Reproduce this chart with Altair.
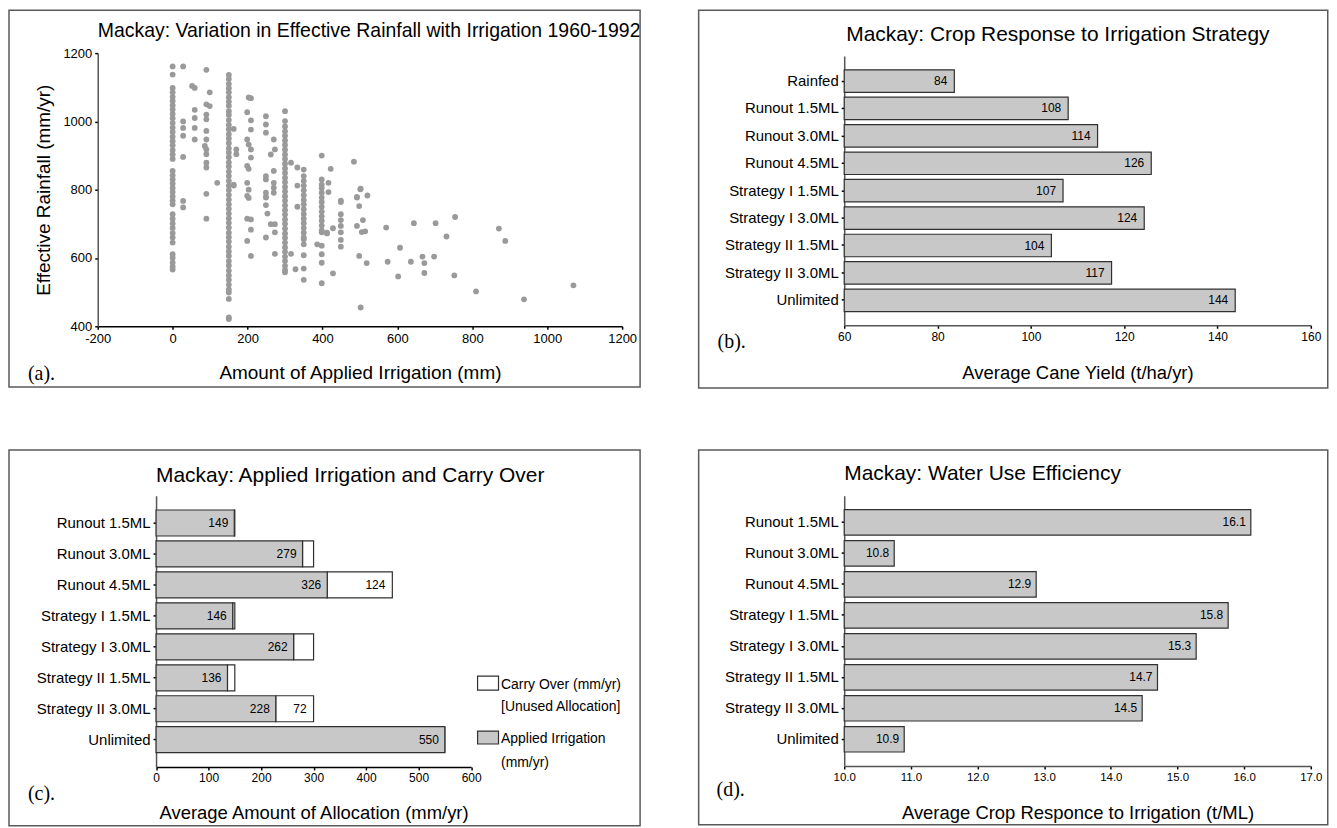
import altair as alt
import pandas as pd

FONT = "Liberation Sans"
SERIF = "Liberation Serif"
BAR_FILL = "#c8c8c8"
BAR_EDGE = "#303030"
FRAME = "#5a5a5a"
DOT = "#9a9a9a"

# ---------------- (a) scatter data: (applied irrigation mm, [effective rainfall mm/yr ...])
scatter_columns = [
    (0, [1161, 1137, 1098, 1085, 1072, 1060, 1047, 1035, 1022, 1009, 995, 982, 969, 955, 942, 930,
         916, 903, 890, 855, 842, 830, 818, 805, 793, 780, 768, 757, 728, 715, 701, 688, 673, 660,
         645, 611, 601, 587, 575, 566]),
    (28, [1161, 1000, 981, 958, 896, 767, 748]),
    (52, [1104]),
    (59, [1098, 1034, 1010, 981, 947]),
    (86, [928]),
    (90, [1151, 1050, 1020, 1006, 972, 947, 918, 904, 879, 865, 788, 715]),
    (99, [1085, 1045]),
    (119, [820]),
    (150, [1136, 1124, 1110, 1097, 1085, 1071, 1058, 1046, 1030, 1019, 1004, 990, 977, 963, 950,
           936, 921, 909, 895, 880, 868, 853, 840, 826, 812, 799, 785, 771, 757, 744, 730, 716,
           703, 689, 674, 661, 648, 633, 619, 606, 591, 578, 563, 549, 536, 522, 508, 499, 480,
           426, 421]),
    (163, [978, 815, 812]),
    (170, [918, 904]),
    (199, [1027, 947, 870, 820, 782, 715, 650]),
    (203, [1070, 932, 861, 800, 776]),
    (209, [1068, 1003, 976, 918, 894, 713, 683, 606]),
    (249, [1015, 991, 967, 840, 830, 791, 779, 777, 755, 660]),
    (253, [730]),
    (262, [903, 699]),
    (270, [947, 855, 820, 806, 791]),
    (273, [918, 699, 675, 612]),
    (300, [1030, 1001, 985, 971, 958, 944, 931, 917, 903, 890, 876, 862, 849, 835, 822, 808, 795,
           781, 768, 754, 740, 727, 713, 700, 686, 672, 659, 645, 631, 618, 604, 591, 577, 565,
           558]),
    (316, [879, 612]),
    (328, [567]),
    (333, [865, 812, 750]),
    (350, [859, 840, 826, 812, 798, 784, 770, 757, 743, 729, 715, 702, 688, 674, 660, 655, 640,
           608, 569, 536]),
    (386, [640]),
    (398, [900, 830, 815, 805, 791, 777, 764, 750, 736, 722, 709, 695, 681, 675, 636, 611, 586,
           526]),
    (412, [674, 672]),
    (416, [820, 793]),
    (422, [861]),
    (428, [687, 555]),
    (449, [768, 764, 728, 711, 694, 675, 653, 633]),
    (484, [882]), (492, [779, 777, 694]), (498, [752, 606]), (501, [801]), (502, [803, 455]),
    (505, [676]), (508, [711]), (514, [678]), (518, [585]), (520, [783]),
    (570, [689]), (574, [589]), (602, [546]), (607, [630]), (636, [589]), (644, [702]),
    (667, [604]), (672, [585, 556]), (698, [604]), (702, [702]), (731, [663]), (752, [549]),
    (754, [720]), (810, [502]), (871, [686]), (888, [650]), (938, [479]), (1070, [520]),
]
a_xticks = [-200, 0, 200, 400, 600, 800, 1000, 1200]
a_yticks = [400, 600, 800, 1000, 1200]

# ---------------- (b) crop response
b_strategies = ["Rainfed", "Runout 1.5ML", "Runout 3.0ML", "Runout 4.5ML", "Strategy I 1.5ML",
                "Strategy I 3.0ML", "Strategy II 1.5ML", "Strategy II 3.0ML", "Unlimited"]
b_yield = [83.6, 108.0, 114.3, 125.8, 106.9, 124.3, 104.4, 117.3, 143.8]
b_xticks = [60, 80, 100, 120, 140, 160]

# ---------------- (c) applied irrigation and carry over
c_strategies = ["Runout 1.5ML", "Runout 3.0ML", "Runout 4.5ML", "Strategy I 1.5ML",
                "Strategy I 3.0ML", "Strategy II 1.5ML", "Strategy II 3.0ML", "Unlimited"]
c_applied = [149, 279, 326, 146, 262, 136, 228, 550]
c_allocation = [150, 300, 450, 150, 300, 150, 300, 550]
c_xticks = [0, 100, 200, 300, 400, 500, 600]
c_legend = [["Carry Over (mm/yr)", "[Unused Allocation]"], ["Applied Irrigation", "(mm/yr)"]]

# ---------------- (d) water use efficiency
d_strategies = c_strategies
d_wue = [16.1, 10.75, 12.88, 15.76, 15.28, 14.7, 14.47, 10.9]
d_xticks = [10, 11, 12, 13, 14, 15, 16, 17]

one = pd.DataFrame({"k": [0]})


def frame(x1, x2, y1, y2):
    return alt.Chart(one).mark_rect(fillOpacity=0, stroke=FRAME, strokeWidth=1.5).encode(
        x=alt.value(x1), x2=alt.value(x2), y=alt.value(y1), y2=alt.value(y2))


def label(text, x, y, size, font=FONT, align="left"):
    return alt.Chart(one).mark_text(text=text, font=font, fontSize=size, align=align,
                                    baseline="middle", color="black").encode(
        x=alt.value(x), y=alt.value(y))


def xaxis(values, title, tx, ty, fmt=None, label_size=12, tsize=18.5, dcolor="#555555",
          expr=None):
    kw = dict(values=values, title=title, titleX=tx, titleY=ty, titleBaseline="middle",
              titleAlign="center", titleFontSize=tsize, titleFontWeight="normal",
              titleFont=FONT, titleColor="black", labelFont=FONT, labelFontSize=label_size,
              labelColor="black", labelPadding=3, tickSize=3, tickWidth=1.5, tickColor="black",
              domainColor=dcolor, domainWidth=1.5, grid=False, labelFlush=False)
    if fmt:
        kw["format"] = fmt
    if expr:
        kw["labelExpr"] = expr
    return alt.Axis(**kw)


def yaxis_cat(offset=0):
    return alt.Axis(title=None, labelFont=FONT, labelFontSize=15, labelColor="black",
                    labelPadding=3, tickSize=3, tickWidth=1.5, tickColor="black",
                    domainColor="#555555", domainWidth=1.5, grid=False, labelLimit=300,
                    offset=offset)


# ---------------- panel (a)
rows = []
for xv, ys in scatter_columns:
    for yv in ys:
        rows.append({"irr": xv, "rain": yv})
df_a = pd.DataFrame(rows)

AW, AH = 526, 274
scat = alt.Chart(df_a).mark_circle(size=34, color=DOT, opacity=1).encode(
    x=alt.X("irr:Q", scale=alt.Scale(domain=[-200, 1200], nice=False, zero=False),
            axis=xaxis(a_xticks, "Amount of Applied Irrigation (mm)", AW / 2, 46,
                       label_size=13, tsize=19, dcolor="black", expr="'' + datum.value")),
    y=alt.Y("rain:Q", scale=alt.Scale(domain=[400, 1200], nice=False, zero=False),
            axis=alt.Axis(values=a_yticks, title="Effective Rainfall (mm/yr)", titleX=-54,
                          titleY=AH / 2, titleAngle=270, titleBaseline="middle",
                          titleAlign="center", titleFontSize=19, titleFontWeight="normal",
                          titleFont=FONT, titleColor="black", labelFont=FONT, labelFontSize=13,
                          labelColor="black", labelPadding=3, tickSize=3, tickWidth=1.5,
                          tickColor="black", domainColor="#555555", domainWidth=1.5,
                          grid=False, labelExpr="'' + datum.value")),
)
panel_a = alt.layer(
    scat,
    label("Mackay: Variation in Effective Rainfall with Irrigation 1960-1992", 0, -22, 19.5),
    label("(a).", -70, 322, 20, font=SERIF),
    frame(-89, 544, -43, 335),
).properties(width=AW, height=AH)

# ---------------- panel (b)  (plot box starts 3px above its y axis, to line up with (a))
BW, BH = 468, 273
df_b = pd.DataFrame({"strategy": b_strategies, "yield": b_yield})
by = alt.Y("strategy:N", sort=b_strategies,
           scale=alt.Scale(range=[3, BH], paddingInner=0.18, paddingOuter=0.5),
           axis=yaxis_cat())
bars_b = alt.Chart(df_b).mark_bar(fill=BAR_FILL, stroke=BAR_EDGE, strokeWidth=1.2).encode(
    x=alt.X("yield:Q", scale=alt.Scale(domain=[60, 160], nice=False, zero=False),
            axis=xaxis(b_xticks, "Average Cane Yield (t/ha/yr)", BW / 2, 47)),
    x2=alt.datum(60),
    y=by,
)
text_b = alt.Chart(df_b).mark_text(align="right", baseline="middle", dx=-7, font=FONT,
                                   fontSize=12, color="black").encode(
    x="yield:Q", y=alt.Y("strategy:N", sort=b_strategies), text=alt.Text("yield:Q", format=".0f"))
panel_b = alt.layer(
    bars_b, text_b,
    label("Mackay: Crop Response to Irrigation Strategy", 2, -18, 21),
    label("(b).", -127, 290, 20, font=SERIF),
    frame(-146, 485, -43, 336),
).properties(width=BW, height=BH)

# ---------------- panel (c)  (plot box starts 58.5px left of its y axis, to line up with (a))
SH = 58.5
CW, CH = 316 + SH, 272
df_c = pd.DataFrame({"strategy": c_strategies, "applied": c_applied, "alloc": c_allocation})
cy = alt.Y("strategy:N", sort=c_strategies,
           scale=alt.Scale(paddingInner=0.16, paddingOuter=0.46), axis=yaxis_cat(-SH))
carry_c = alt.Chart(df_c).mark_bar(fill="white", stroke=BAR_EDGE, strokeWidth=1.2).encode(
    x=alt.X("alloc:Q", scale=alt.Scale(domain=[0, 600], nice=False, range=[SH, CW]),
            axis=xaxis(c_xticks, "Average Amount of Allocation (mm/yr)", SH + 158, 46,
                       dcolor="black")),
    x2=alt.X2("applied:Q"),
    y=cy,
)
applied_c = alt.Chart(df_c).mark_bar(fill=BAR_FILL, stroke=BAR_EDGE, strokeWidth=1.2).encode(
    x="applied:Q", x2=alt.datum(0), y=alt.Y("strategy:N", sort=c_strategies))
text_c = alt.Chart(df_c).mark_text(align="right", baseline="middle", dx=-6, font=FONT,
                                   fontSize=12, color="black").encode(
    x="applied:Q", y=alt.Y("strategy:N", sort=c_strategies), text="applied:Q")
carry_text_c = alt.Chart(df_c).transform_calculate(
    carry="datum.alloc - datum.applied").transform_filter("datum.carry >= 50").mark_text(
    align="right", baseline="middle", dx=-7, font=FONT, fontSize=12, color="black").encode(
    x="alloc:Q", y=alt.Y("strategy:N", sort=c_strategies), text="carry:Q")
leg_box1 = alt.Chart(one).mark_rect(fill="white", stroke=BAR_EDGE, strokeWidth=1.2).encode(
    x=alt.value(SH + 322.5), x2=alt.value(SH + 343.5), y=alt.value(181), y2=alt.value(195))
leg_box2 = alt.Chart(one).mark_rect(fill=BAR_FILL, stroke=BAR_EDGE, strokeWidth=1.2).encode(
    x=alt.value(SH + 322.5), x2=alt.value(SH + 343.5), y=alt.value(236), y2=alt.value(249))
panel_c = alt.layer(
    carry_c, applied_c, text_c, carry_text_c, leg_box1, leg_box2,
    label(c_legend[0][0], SH + 346, 190, 14), label(c_legend[0][1], SH + 346, 212, 14),
    label(c_legend[1][0], SH + 346, 244, 14), label(c_legend[1][1], SH + 346, 268, 14),
    label("Mackay: Applied Irrigation and Carry Over", SH, -20, 21),
    label("(c).", SH - 128.5, 299, 20, font=SERIF),
    frame(SH - 147.5, SH + 485.5, -46, 331),
).properties(width=CW, height=CH)

# ---------------- panel (d)
DW, DH = 468, 271
df_d = pd.DataFrame({"strategy": d_strategies, "wue": d_wue})
dy = alt.Y("strategy:N", sort=d_strategies,
           scale=alt.Scale(paddingInner=0.18, paddingOuter=0.45), axis=yaxis_cat())
bars_d = alt.Chart(df_d).mark_bar(fill=BAR_FILL, stroke=BAR_EDGE, strokeWidth=1.2).encode(
    x=alt.X("wue:Q", scale=alt.Scale(domain=[10, 17], nice=False, zero=False),
            axis=xaxis(d_xticks, "Average Crop Responce to Irrigation (t/ML)", DW / 2, 47,
                       fmt=".1f", label_size=11.5)),
    x2=alt.datum(10),
    y=dy,
)
text_d = alt.Chart(df_d).mark_text(align="right", baseline="middle", dx=-5, font=FONT,
                                   fontSize=12, color="black").encode(
    x="wue:Q", y=alt.Y("strategy:N", sort=d_strategies), text=alt.Text("wue:Q", format=".1f"))
panel_d = alt.layer(
    bars_d, text_d,
    label("Mackay: Water Use Efficiency", 0, -22, 21),
    label("(d).", -128, 295, 20, font=SERIF),
    frame(-146, 485, -46, 330),
).properties(width=DW, height=DH)

chart = alt.concat(
    panel_a, panel_b, panel_c, panel_d,
    columns=2, spacing=alt.RowColnumber(column=56.75, row=60),
).properties(padding=0).configure_view(strokeWidth=0)

chart.save("out.html", embed_options={"renderer": "svg", "actions": False})
